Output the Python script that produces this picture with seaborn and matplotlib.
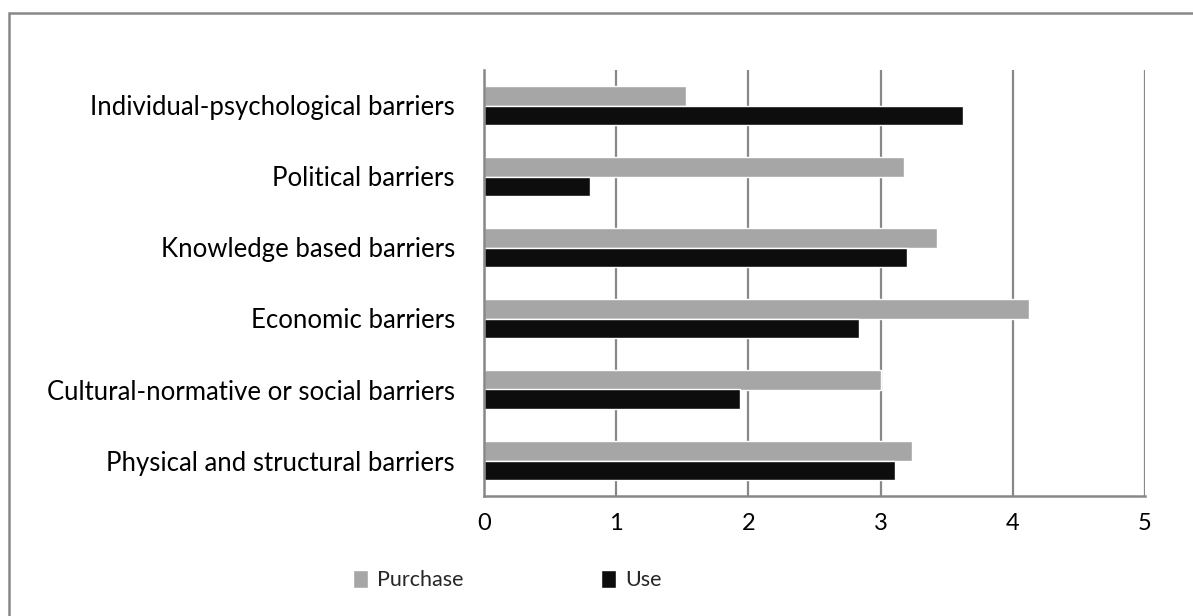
import matplotlib
matplotlib.use("Agg")
import matplotlib.pyplot as plt
import seaborn as sns
import pandas as pd
from matplotlib.patches import Rectangle

categories = ["Individual-psychological barriers", "Political barriers",
              "Knowledge based barriers", "Economic barriers",
              "Cultural-normative or social barriers", "Physical and structural barriers"]
purchase = [1.53, 3.18, 3.43, 4.12, 3.00, 3.24]
use = [3.62, 0.80, 3.20, 2.84, 1.94, 3.11]
series = ["Purchase", "Use"]
x_ticks = [0, 1, 2, 3, 4, 5]

df = pd.DataFrame({
    "category": categories * 2,
    "value": purchase + use,
    "series": [series[0]] * len(categories) + [series[1]] * len(categories),
})

sns.set_theme(style="white")
plt.rcParams["font.family"] = ["Lato", "DejaVu Sans"]

fig = plt.figure(figsize=(11.93, 6.16), dpi=100)
ax = fig.add_axes([484 / 1193, 1 - 496 / 616, (1145 - 484) / 1193, (496 - 70) / 616])

sns.barplot(data=df, x="value", y="category", hue="series", order=categories,
            hue_order=series, palette={"Purchase": "#A6A6A6", "Use": "#0D0D0D"},
            width=0.56, orient="h", ax=ax, saturation=1, legend=True)

ax.set_xlim(0, 5)
ax.set_xticks(x_ticks)
ax.set_xticklabels([str(t) for t in x_ticks], fontsize=17, color="#000000")
ax.tick_params(axis="x", length=0, pad=12)
ax.tick_params(axis="y", length=0, pad=21, labelsize=18.5, labelcolor="#000000")
ax.set_xlabel("")
ax.set_ylabel("")
ax.xaxis.grid(True, color="#888888", linewidth=1.6)
ax.set_axisbelow(True)
for s in ["top", "right"]:
    ax.spines[s].set_visible(False)
for s in ["left", "bottom"]:
    ax.spines[s].set_color("#888888")
    ax.spines[s].set_linewidth(1.8)

handles, labels = ax.get_legend_handles_labels()
ax.legend_.remove()
fig.legend(handles, labels, loc="center left", bbox_to_anchor=(334 / 1193, 1 - 580 / 616),
           ncol=2, frameon=False, fontsize=15.5, handlelength=0.7, handleheight=0.95,
           columnspacing=6.4, handletextpad=0.4)

fig.patches.append(Rectangle((9 / 1193, -0.1), 1.2, 1 - 13 / 616 + 0.1,
                             transform=fig.transFigure, fill=False,
                             edgecolor="#888888", linewidth=1.8))

fig.savefig("out.png", dpi=100, facecolor="white")
